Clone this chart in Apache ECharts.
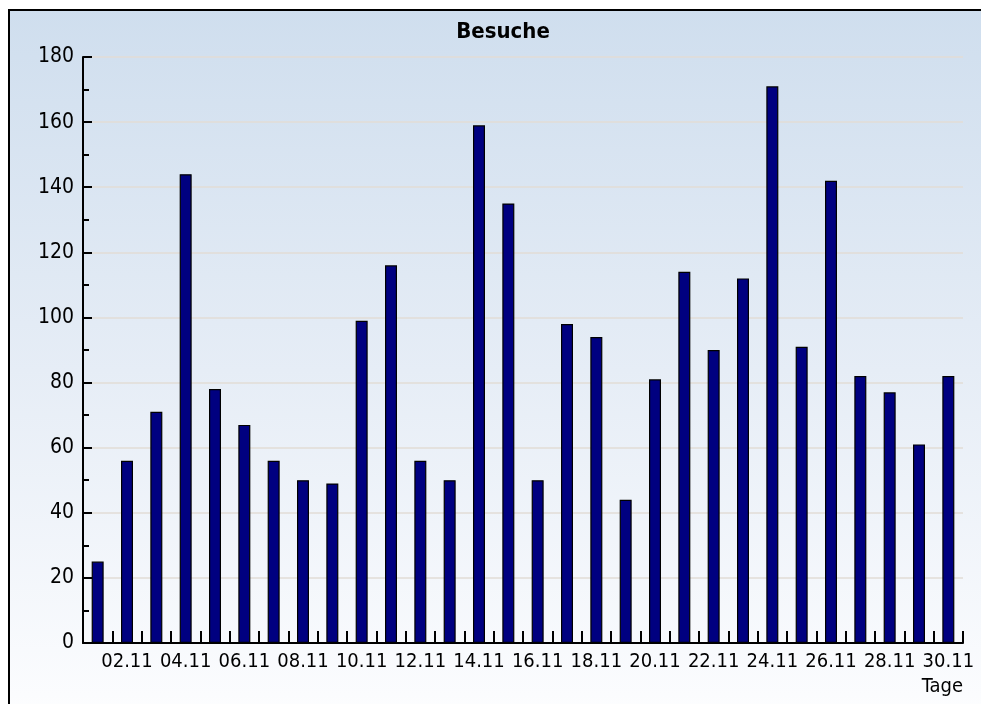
<!DOCTYPE html>
<html>
<head>
<meta charset="utf-8">
<script src="https://cdn.jsdelivr.net/npm/echarts@6/dist/echarts.min.js"></script>
<style>
html,body{margin:0;padding:0;background:#fff;}
#chart{width:981px;height:704px;}
</style>
</head>
<body>
<div id="chart"></div>
<script>
var days = ['01.11','02.11','03.11','04.11','05.11','06.11','07.11','08.11','09.11','10.11',
            '11.11','12.11','13.11','14.11','15.11','16.11','17.11','18.11','19.11','20.11',
            '21.11','22.11','23.11','24.11','25.11','26.11','27.11','28.11','29.11','30.11'];
var visits = [25,56,71,144,78,67,56,50,49,99,
              116,56,50,159,135,50,98,94,44,81,
              114,90,112,171,91,142,82,77,61,82];
var yTicks = [0,20,40,60,80,100,120,140,160,180];
var titleText = 'Besuche';
var xName = 'Tage';

var FONT = "'Liberation Sans Narrow', 'DejaVu Sans Condensed', sans-serif";
var chart = echarts.init(document.getElementById('chart'), null, {renderer: 'canvas'});
chart.setOption({
  animation: false,
  backgroundColor: '#ffffff',
  graphic: [{
    type: 'rect',
    z: -100,
    silent: true,
    shape: {x: 9, y: 10, width: 990, height: 720},
    style: {
      fill: {type: 'linear', x: 0, y: 0, x2: 0, y2: 1, colorStops: [
        {offset: 0, color: '#cfdeee'},
        {offset: 0.5, color: '#e6edf6'},
        {offset: 0.95, color: '#fbfcfe'},
        {offset: 1, color: '#ffffff'}
      ]},
      stroke: '#000000',
      lineWidth: 2
    }
  }],
  title: {
    text: titleText,
    left: 503,
    textAlign: 'center',
    top: 21,
    padding: 0,
    textStyle: {fontFamily: FONT, fontWeight: 'bold', fontSize: 22, color: '#000'}
  },
  grid: {left: 83, right: 18, top: 57, bottom: 61, containLabel: false},
  xAxis: {
    type: 'category',
    data: days,
    boundaryGap: true,
    name: xName,
    nameLocation: 'end',
    nameGap: 0,
    nameTextStyle: {fontFamily: FONT, fontSize: 20, color: '#000', align: 'right', verticalAlign: 'top', padding: [34, 0, 0, 0]},
    axisLine: {show: true, lineStyle: {color: '#000', width: 2}},
    axisTick: {show: true, inside: true, length: 12, interval: 0, alignWithLabel: false, lineStyle: {color: '#000', width: 2}},
    axisLabel: {
      interval: function (i) { return i % 2 === 1; },
      hideOverlap: false,
      showMinLabel: true,
      showMaxLabel: true,
      margin: 9,
      fontFamily: FONT, fontSize: 20, color: '#000'
    },
    splitLine: {show: false}
  },
  yAxis: {
    type: 'value',
    min: yTicks[0],
    max: yTicks[yTicks.length - 1],
    interval: yTicks[1] - yTicks[0],
    axisLine: {show: true, lineStyle: {color: '#000', width: 2}},
    axisTick: {show: true, inside: true, length: 9, lineStyle: {color: '#000', width: 2}},
    minorTick: {show: true, splitNumber: 2, length: 6, lineStyle: {color: '#000', width: 2}},
    axisLabel: {margin: 9, fontFamily: FONT, fontSize: 21, color: '#000'},
    splitLine: {show: true, lineStyle: {color: '#e2ddd6', width: 1.5}}
  },
  series: [{
    type: 'bar',
    data: visits,
    barWidth: 12,
    itemStyle: {color: '#000080', borderColor: '#000000', borderWidth: 1.2}
  }]
});
</script>
</body>
</html>
